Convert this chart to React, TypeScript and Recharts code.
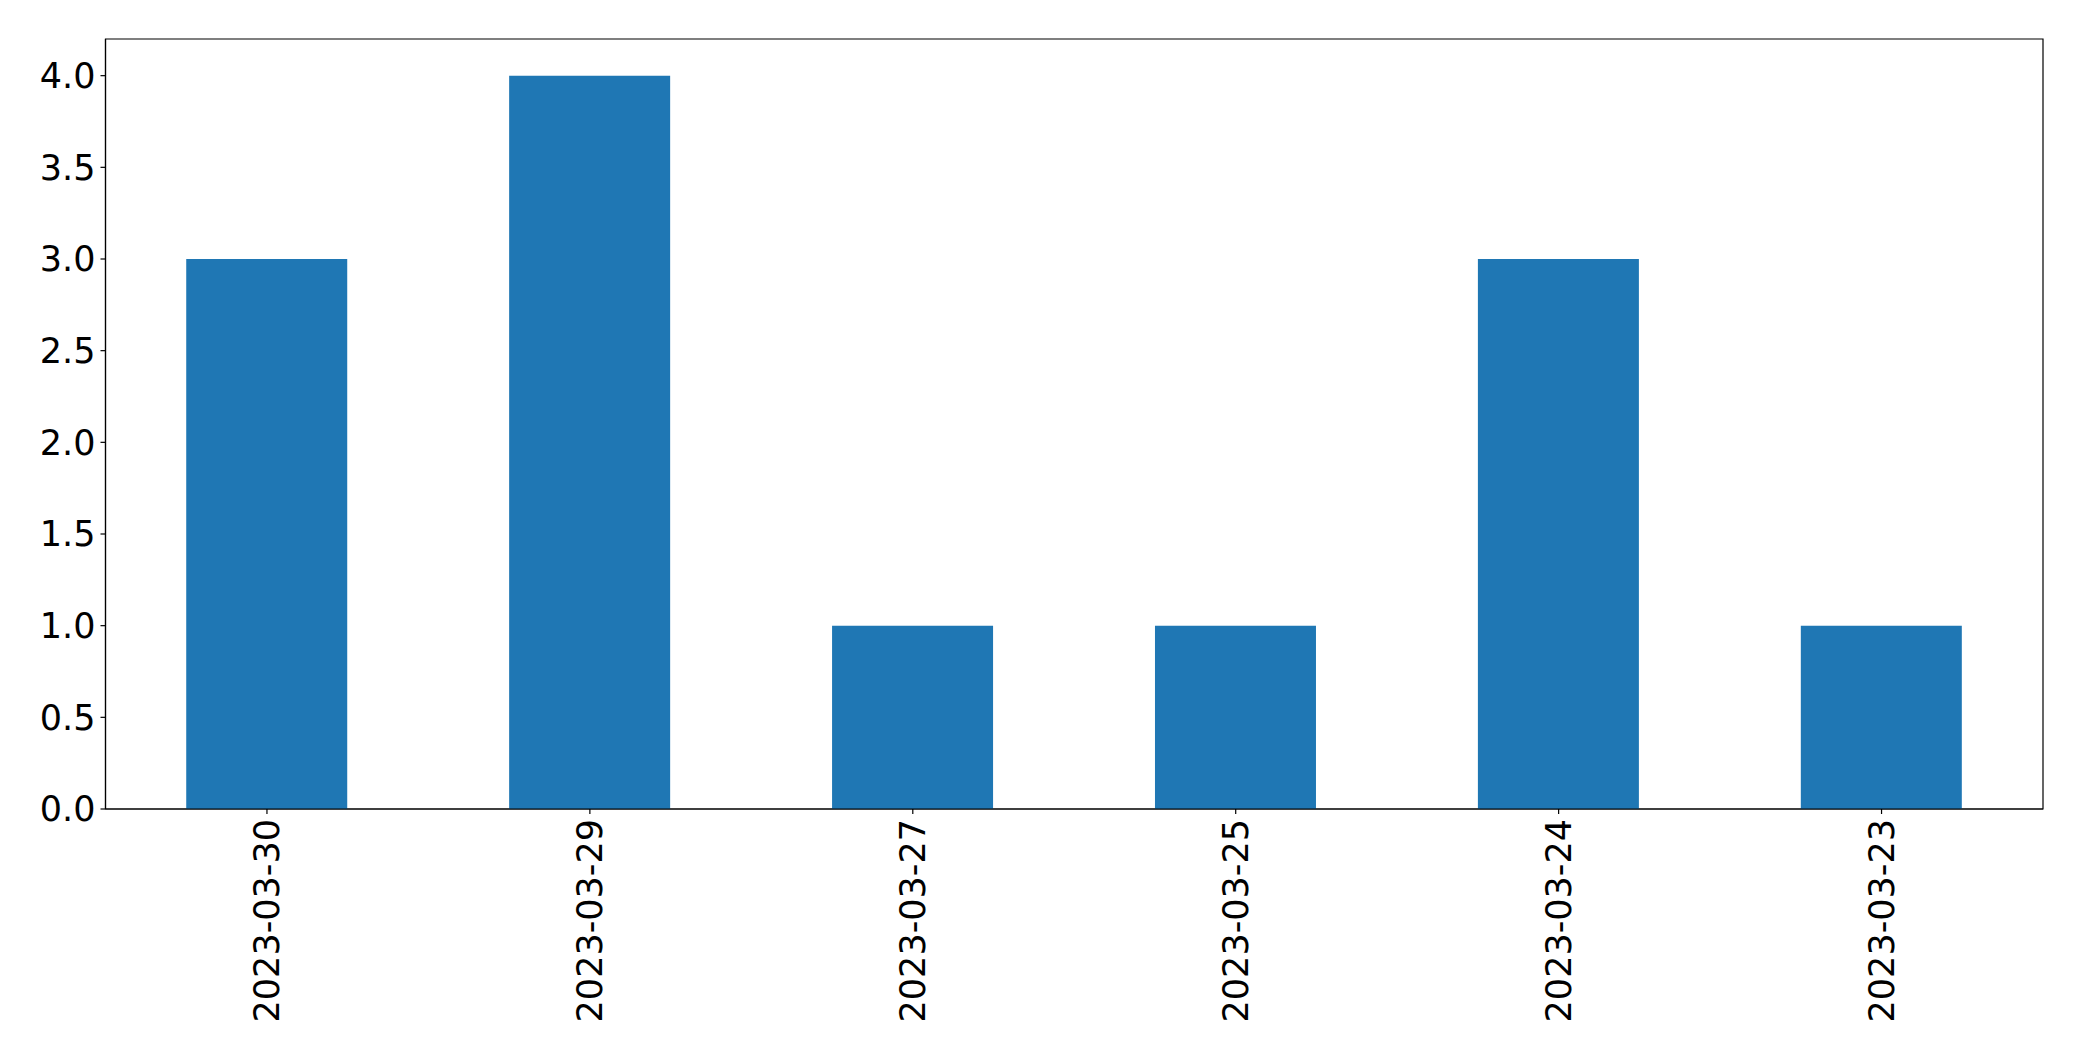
import React from "react";
import { BarChart, Bar, XAxis, YAxis, ReferenceArea } from "recharts";

const dates = ["2023-03-30", "2023-03-29", "2023-03-27", "2023-03-25", "2023-03-24", "2023-03-23"];
const counts = [3, 4, 1, 1, 3, 1];
const yTicks = [0, 0.5, 1.0, 1.5, 2.0, 2.5, 3.0, 3.5, 4.0];

const data = dates.map((d, i) => ({ date: d, count: counts[i] }));

const FONT = "DejaVu Sans";
const FS = 35;

const XTick = (props: any) => {
  const { x, y, payload } = props;
  return (
    <text
      x={x}
      y={y}
      transform={`rotate(-90, ${x}, ${y})`}
      textAnchor="end"
      dominantBaseline="central"
      fontFamily={FONT}
      fontSize={FS}
      fill="#000"
    >
      {payload.value}
    </text>
  );
};

export default function App() {
  return (
    <div style={{ position: "absolute", left: 0, top: 0, width: 2082, height: 1061, background: "#fff" }}>
      <BarChart
        width={2082}
        height={1061}
        data={data}
        margin={{ top: 39, right: 39, bottom: 0, left: 0 }}
        barCategoryGap="25%"
      >
        <XAxis
          dataKey="date"
          height={252}
          tick={<XTick />}
          tickSize={5}
          tickMargin={5}
          tickLine={{ stroke: "#000", strokeWidth: 1.2 }}
          axisLine={{ stroke: "#000", strokeWidth: 1.2 }}
          interval={0}
        />
        <YAxis
          width={105.5}
          domain={[0, 4.2]}
          ticks={yTicks}
          allowDataOverflow
          tickFormatter={(v: number) => v.toFixed(1)}
          tickSize={5}
          tickMargin={5}
          tick={{ fontFamily: FONT, fontSize: FS, fill: "#000" }}
          tickLine={{ stroke: "#000", strokeWidth: 1.2 }}
          axisLine={{ stroke: "#000", strokeWidth: 1.2 }}
        />
        <Bar dataKey="count" fill="#1f77b4" isAnimationActive={false} />
        <ReferenceArea
          y1={0}
          y2={4.2}
          fill="none"
          fillOpacity={0}
          stroke="#000"
          strokeWidth={1.2}
          ifOverflow="visible"
        />
      </BarChart>
    </div>
  );
}
